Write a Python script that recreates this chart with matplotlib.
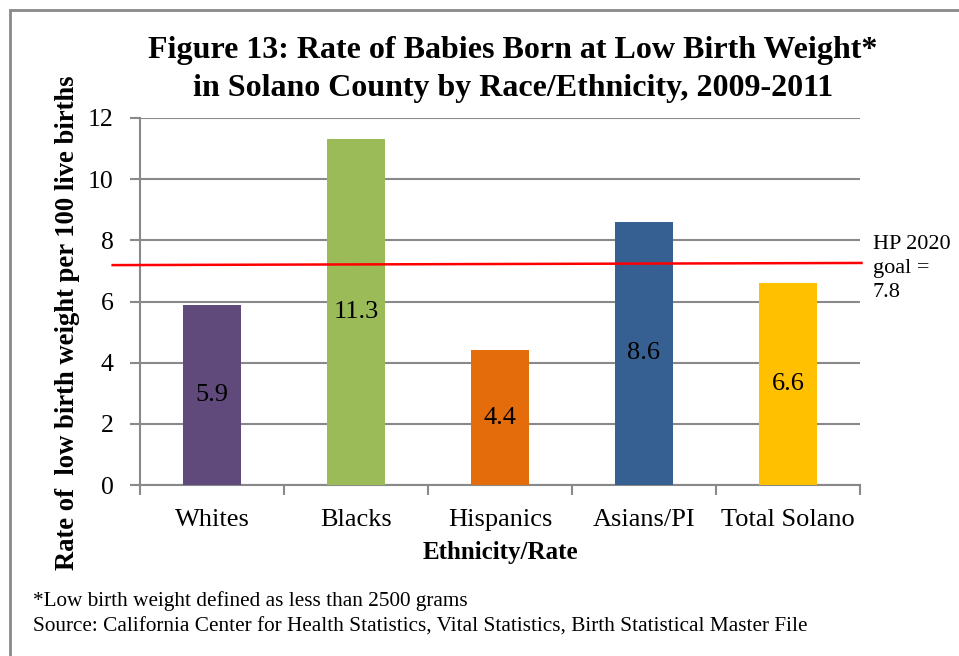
import matplotlib
matplotlib.use("Agg")
import matplotlib.pyplot as plt
from matplotlib.patches import Rectangle

categories = ["Whites", "Blacks", "Hispanics", "Asians/PI", "Total Solano"]
values = [5.9, 11.3, 4.4, 8.6, 6.6]
colors = ["#604A7B", "#9BBB59", "#E46C0A", "#376092", "#FFC000"]
value_labels = ["5.9", "11.3", "4.4", "8.6", "6.6"]
yticks = [0, 2, 4, 6, 8, 10, 12]
goal_line_y = [7.19, 7.26]   # where the red line is drawn (left, right)
goal_text = "HP 2020\ngoal =\n7.8"

plt.rcParams['font.family'] = ['Liberation Serif', 'DejaVu Serif']

fig = plt.figure(figsize=(9.59, 6.56), dpi=100)
ax = fig.add_axes([140/959, 1-485/656, 720/959, (485-118)/656])

x = list(range(len(categories)))
ax.bar(x, values, width=0.4, color=colors, zorder=3)
for xi, v, lab in zip(x, values, value_labels):
    ax.text(xi, v/2, lab, ha='center', va='center', fontsize=19, zorder=4)

ax.set_xlim(-0.5, 4.5)
ax.set_ylim(0, 12)
ax.set_yticks(yticks)
ax.set_yticklabels([str(t) for t in yticks], fontsize=18.5)
ax.set_xticks(x)
ax.set_xticklabels(categories, fontsize=19)
ax.tick_params(axis='x', length=0, pad=17)
ax.set_xticks([i - 0.5 for i in range(len(categories) + 1)], minor=True)
ax.tick_params(axis='x', which='minor', length=7, width=1.5, color='#898989', direction='out')
ax.tick_params(axis='y', length=7, width=1.5, color='#898989', direction='out', pad=12)
ax.yaxis.grid(True, color='#898989', linewidth=1.5, zorder=0)
ax.set_axisbelow(True)
for s in ['top', 'right']:
    ax.spines[s].set_visible(False)
for s in ['left', 'bottom']:
    ax.spines[s].set_color('#898989')
    ax.spines[s].set_linewidth(1.5)

fig.text(500/959, 1-553/656, "Ethnicity/Rate", fontsize=18, fontweight='bold', ha='center', va='center')
fig.text(68/959, 1-323/656, "Rate of  low birth weight per 100 live births", fontsize=19.2,
         fontweight='bold', rotation=90, ha='center', va='center')

# red goal line, extending beyond the plot area
ax.plot([-0.69, 4.51], goal_line_y, color='#FF0000', linewidth=1.8, clip_on=False, zorder=5)
fig.text(873/959, 1-235/656, goal_text, fontsize=16, ha='left', va='top', linespacing=1.35)

fig.text(0.535, 1-69.5/656, "Figure 13: Rate of Babies Born at Low Birth Weight*\nin Solano County by Race/Ethnicity, 2009-2011",
         fontsize=23, fontweight='bold', ha='center', va='center', linespacing=1.4)

fig.text(33/959, 1-601/656, "*Low birth weight defined as less than 2500 grams", fontsize=15.3, ha='left', va='center')
fig.text(33/959, 1-627/656, "Source: California Center for Health Statistics, Vital Statistics, Birth Statistical Master File",
         fontsize=15.3, ha='left', va='center')

# outer border
fig.patches.append(Rectangle((10/959, -0.1), 1.1, 1 - 10/656 + 0.1, transform=fig.transFigure,
                             fill=False, edgecolor='#898989', linewidth=2))

fig.savefig("out.png", dpi=100)
